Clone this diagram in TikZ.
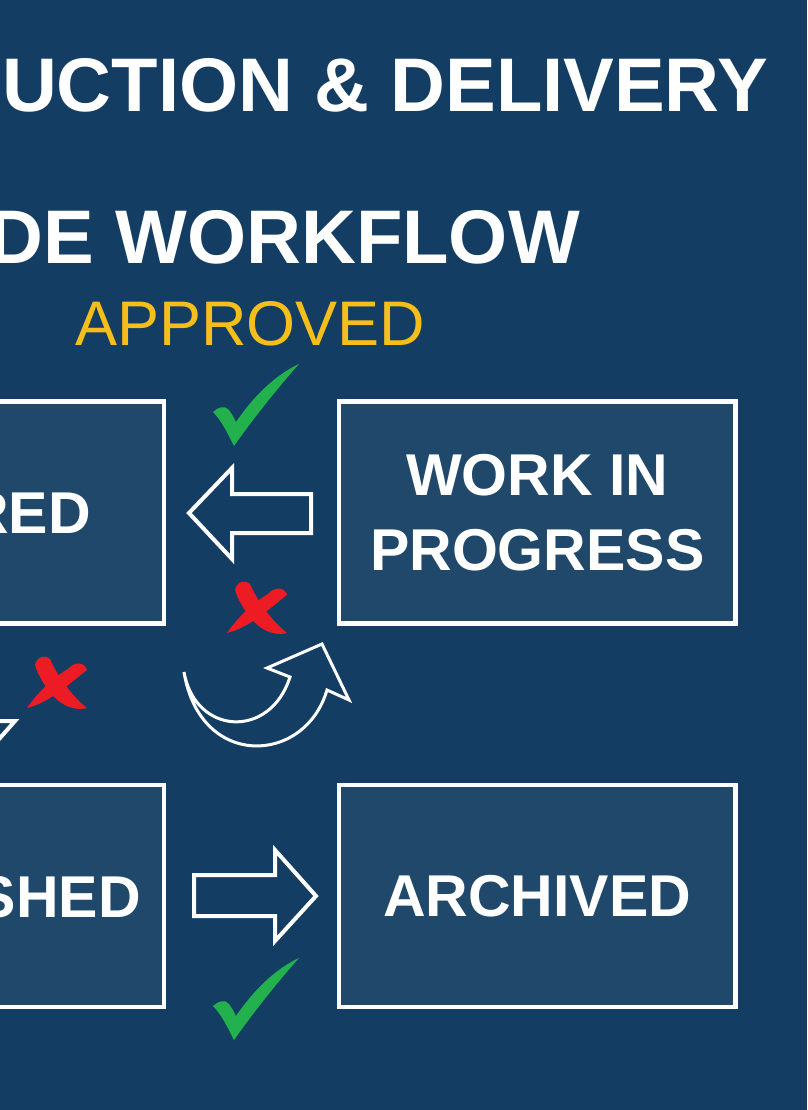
\documentclass[tikz,border=0pt]{standalone}
\usepackage{fontspec}
\setmainfont{Liberation Sans}
\definecolor{bgblue}{RGB}{19,61,99}
\definecolor{boxblue}{RGB}{31,72,107}
\definecolor{chkgreen}{RGB}{34,177,76}
\definecolor{xred}{RGB}{237,28,36}
\definecolor{apyellow}{RGB}{245,190,26}
\tikzset{
  box/.style={draw=white, line width=4.5pt, fill=boxblue, minimum width=396.5pt,
    minimum height=222pt, inner sep=0pt, text=white, align=center,
    font=\bfseries\fontsize{59}{75}\selectfont},
  boxlabel/.style={text=white, inner sep=0pt, font=\bfseries\fontsize{59}{75}\selectfont},
  titletext/.style={text=white, inner sep=0pt, font=\bfseries\fontsize{76}{80}\selectfont},
  outline/.style={draw=white, line width=4pt, line join=miter},
  thinoutline/.style={draw=white, line width=3pt, line join=miter},
  chk/.pic={\fill[chkgreen] (0,0) .. controls (5,-5) and (12,-7) .. (16,-2)
      .. controls (19,2) and (21,6) .. (23,10)
      .. controls (40,-15) and (62,-37) .. (86,-48)
      .. controls (70,-30) and (45,0) .. (21,34)
      .. controls (14,20) and (8,8) .. cycle;},
  xmark/.pic={\fill[xred] (9,8) .. controls (10,0) and (20,-3) .. (24,2)
      .. controls (32,20) and (45,38) .. (61,51)
      .. controls (45,55) and (30,45) .. (20,30)
      .. controls (15,22) and (11,15) .. cycle;
    \fill[xred] (42,12) .. controls (48,5) and (58,4) .. (61,13)
      .. controls (45,25) and (25,45) .. (1,51)
      .. controls (12,35) and (28,20) .. cycle;}
}
\begin{document}
\begin{tikzpicture}[x=1pt,y=-1pt]
\useasboundingbox (0,0) rectangle (807,1110);
\clip (0,0) rectangle (807,1110);
\fill[bgblue] (0,0) rectangle (807,1110);

% titles
\node[titletext, anchor=base east] (t1) at (768,112) {UCTION \& DELIVERY};
\node[titletext, anchor=base east] (t2) at (580,263) {DE WORKFLOW};
\node[text=apyellow, inner sep=0pt, anchor=base west,
      font=\fontsize{63}{66}\selectfont] (appr) at (75,345) {APPROVED};

% boxes
\node[box] (lt) at (-34.25,512.5) {};
\node[box] (wip) at (537.25,512.5) {WORK IN\\PROGRESS};
\node[box] (lb) at (-34.25,896) {};
\node[box] (arch) at (537.25,896) {ARCHIVED};
\node[boxlabel, anchor=base east] (ltl) at (91,533) {RED};
\node[boxlabel, anchor=base east] (lbl) at (141,917) {SHED};

% block arrows
\draw[outline] (189,513) -- (232,468) -- (232,494) -- (311,494) -- (311,533)
  -- (232,533) -- (232,559) -- cycle;
\draw[outline] (316,896) -- (275,850) -- (275,875) -- (194,875) -- (194,916)
  -- (275,916) -- (275,941) -- cycle;

% curved arrow
\draw[thinoutline] (184,672) .. controls (195,735) and (270,740) .. (290,677)
  -- (267,668) -- (322,644) -- (349,700) -- (327,690)
  .. controls (305,765) and (200,770) .. cycle;

% fragment of an arrow at the left edge
\draw[outline] (-25,721) -- (15,721) -- (-15,755);

% marks
\pic at (213,412) {chk};
\pic at (213,1006) {chk};
\pic at (226,582) {xmark};
\pic at (26,657) {xmark};
\end{tikzpicture}
\end{document}
